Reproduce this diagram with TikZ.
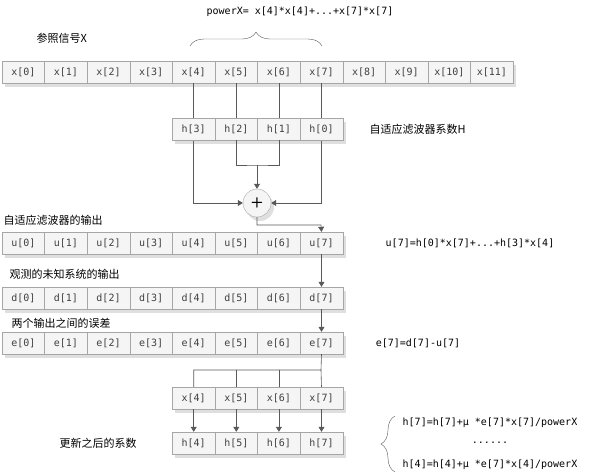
\documentclass[tikz,border=0pt]{standalone}
\usepackage{fontspec}
\setmonofont{DejaVu Sans Mono}
\newfontfamily\cjk{Noto Sans CJK SC}
\usetikzlibrary{positioning,shadows,decorations.pathreplacing,arrows.meta}
\tikzset{
  cell/.style={draw=gray!70,fill=gray!8,minimum width=42.6pt,minimum height=22pt,
    inner sep=0pt,font=\ttfamily\fontsize{10}{12}\selectfont,text=gray!50!black,
    drop shadow={shadow xshift=3pt,shadow yshift=-4pt,opacity=.25}},
  lbl/.style={font=\cjk\fontsize{11}{13}\selectfont,anchor=west},
  eq/.style={font=\ttfamily\fontsize{10}{12}\selectfont},
  wire/.style={draw=gray!70!black,line width=.6pt},
  arr/.style={wire,-{Triangle[length=5pt,width=6pt]}}
}
\begin{document}
\begin{tikzpicture}[x=1pt,y=-1pt]
  \useasboundingbox (0,0) rectangle (600,475);
  % cells
  \foreach \i in {0,...,11} \node[cell] (x\i) at (23.3+42.6*\i,72) {x[\i]};
  \foreach \i in {0,...,7} {
    \node[cell] (u\i) at (23.3+42.6*\i,243) {u[\i]};
    \node[cell] (d\i) at (23.3+42.6*\i,298) {d[\i]};
    \node[cell] (e\i) at (23.3+42.6*\i,343) {e[\i]};
  }
  \foreach \i in {4,...,7} {
    \node[cell] (xb\i) at (23.3+42.6*\i,398) {x[\i]};
    \node[cell] (hb\i) at (23.3+42.6*\i,443) {h[\i]};
  }
  \node[circle,draw=gray!70,fill=gray!8,minimum size=28pt,inner sep=0pt,
    font=\sffamily\bfseries\Large,
    drop shadow={shadow xshift=3pt,shadow yshift=-4pt,opacity=.25}] (sum) at (257,203) {+};
  % wires
  \draw[arr] (x4.south) -- ++(0,60) |- (sum.west);
  \draw[arr] (x7.south) -- ++(0,60) |- (sum.east);
  \draw[wire] (x5.south) -- ++(0,40) (x6.south) -- ++(0,40);
  \foreach \i/\k in {3/4,2/5,1/6,0/7} \node[cell] (h\i) at (23.3+42.6*\k,129) {h[\i]};
  \draw[wire] (h2.south) |- (257,165) -| (h1.south);
  \draw[arr] (257,165) -- (sum.north);
  \draw[arr] (sum.south) |- (321,225) -- (u7.north);
  \draw[arr] (u7.south) -- (d7.north);
  \draw[arr] (d7.south) -- (e7.north);
  \draw[wire] (e7.south) -- (321,370) coordinate (br);
  \draw[wire] (xb4.north) |- (br) -- (xb7.north);
  \draw[wire] (xb5.north) -- (xb5.north|-br) (xb6.north) -- (xb6.north|-br);
  \foreach \i in {4,...,7} \draw[arr] (xb\i.south) -- (hb\i.north);
  % braces
  \draw[gray!70!black,decorate,decoration={brace,amplitude=14pt}] (190,46) -- (322,46);
  \node[eq] (px) at (300,12) {powerX= x[4]*x[4]+...+x[7]*x[7]};
  \draw[gray!70!black,decorate,decoration={brace,amplitude=14pt}] (395,472) -- (395,416);
  \node[eq] (up1) at (490,423) {h[7]=h[7]+μ *e[7]*x[7]/powerX};
  \node[eq] (dots) at (490,443) {......};
  \node[eq] (up2) at (490,465) {h[4]=h[4]+μ *e[7]*x[4]/powerX};
  % labels
  \node[lbl] (lx) at (33,38) {参照信号X};
  \node[lbl] (lh) at (366,129) {自适应滤波器系数H};
  \node[lbl] (lu) at (0,220) {自适应滤波器的输出};
  \node[eq] (equ) at (470,243) {u[7]=h[0]*x[7]+...+h[3]*x[4]};
  \node[lbl] (ld) at (6,274) {观测的未知系统的输出};
  \node[lbl] (le) at (8,323) {两个输出之间的误差};
  \node[eq] (eqe) at (418,343) {e[7]=d[7]-u[7]};
  \node[lbl] (lhb) at (56,443) {更新之后的系数};
\end{tikzpicture}
\end{document}
